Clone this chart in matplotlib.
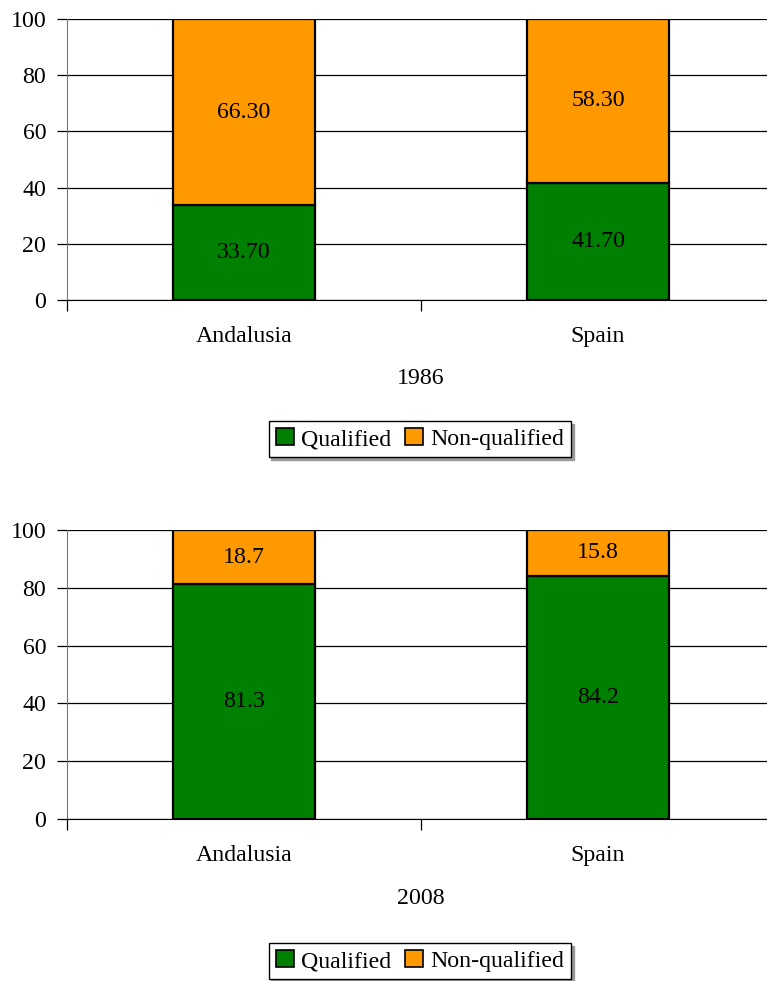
import matplotlib
matplotlib.use("Agg")
import matplotlib.pyplot as plt
from matplotlib.patches import Patch

plt.rcParams['font.family'] = ['Liberation Serif', 'DejaVu Serif']

regions = ["Andalusia", "Spain"]
years = ["1986", "2008"]
qualified_1986 = [33.70, 41.70]
nonqualified_1986 = [66.30, 58.30]
qualified_2008 = [81.3, 84.2]
nonqualified_2008 = [18.7, 15.8]
label_fmt = ["{:.2f}", "{:.1f}"]
yticks = [0, 20, 40, 60, 80, 100]

GREEN = "#008000"
ORANGE = "#FF9900"
FS = 17.2

W, H = 767, 981
fig = plt.figure(figsize=(W / 100, H / 100), dpi=100)


def panel(rect_px, qual, nonq, fmt, year, year_y, legend_y):
    left, top, right, bottom = rect_px
    ax = fig.add_axes([left / W, 1 - bottom / H, (right - left) / W, (bottom - top) / H])
    x = list(range(len(regions)))
    ax.bar(x, qual, width=0.4, color=GREEN, edgecolor="black", linewidth=1.6, zorder=3)
    ax.bar(x, nonq, width=0.4, bottom=qual, color=ORANGE, edgecolor="black",
           linewidth=1.6, zorder=3)
    for xi, q, n in zip(x, qual, nonq):
        ax.text(xi, q / 2, fmt.format(q), ha="center", va="center", fontsize=FS, zorder=4)
        ax.text(xi, q + n / 2, fmt.format(n), ha="center", va="center", fontsize=FS, zorder=4)
    ax.set_xlim(-0.5, len(regions) - 0.5)
    ax.set_ylim(0, 100)
    ax.set_yticks(yticks)
    ax.set_yticklabels([str(t) for t in yticks], fontsize=FS)
    ax.yaxis.grid(True, color="black", linewidth=0.9, zorder=0)
    ax.set_xticks(x)
    ax.set_xticklabels(regions, fontsize=FS)
    ax.set_xticks([i - 0.5 for i in range(len(regions) + 1)], minor=True)
    ax.tick_params(axis="x", which="major", length=0, pad=18.5)
    ax.tick_params(axis="x", which="minor", length=8, width=0.9, direction="out")
    ax.tick_params(axis="y", length=7, width=0.9, pad=8)
    for s in ("top", "right"):
        ax.spines[s].set_visible(False)
    ax.spines["left"].set_color("#777777")
    ax.spines["bottom"].set_color("black")
    ax.set_axisbelow(True)
    fig.text(421 / W, 1 - year_y / H, year, ha="center", va="center", fontsize=FS)
    handles = [Patch(facecolor=GREEN, edgecolor="black", linewidth=1.2, label="Qualified"),
               Patch(facecolor=ORANGE, edgecolor="black", linewidth=1.2, label="Non-qualified")]
    leg = fig.legend(handles=handles, loc="center", bbox_to_anchor=(420 / W, 1 - legend_y / H),
                     ncol=2, fontsize=FS, frameon=True, fancybox=False,
                     shadow={"color": "#999999", "alpha": 1.0, "ox": 2, "oy": -2},
                     handlelength=0.75, handleheight=0.75, handletextpad=0.3,
                     columnspacing=0.6, borderpad=0.3, borderaxespad=0)
    leg.get_frame().set_edgecolor("black")
    leg.get_frame().set_linewidth(1.0)
    return ax


panel((67, 19, 775, 300), qualified_1986, nonqualified_1986, label_fmt[0], years[0], 379, 439)
panel((67, 530, 775, 819), qualified_2008, nonqualified_2008, label_fmt[1], years[1], 899, 961)

fig.savefig("out.png", dpi=100)
